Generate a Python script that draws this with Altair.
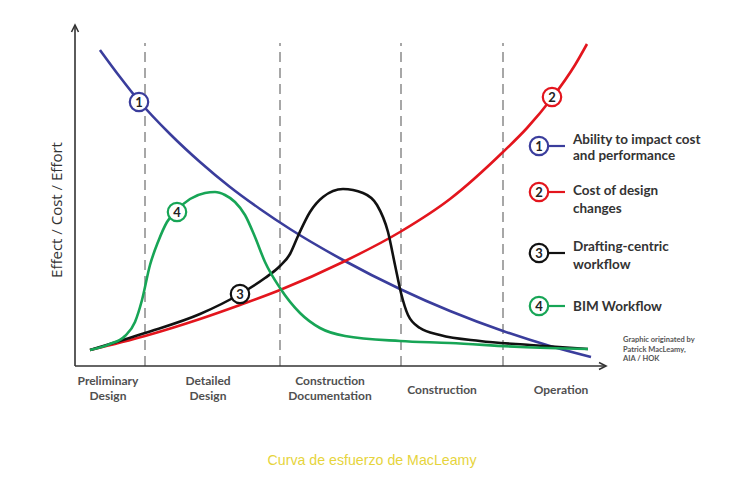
import altair as alt
import pandas as pd

# ---- data (x = project time, y = effort/cost; units) ----
blue_x = [25, 45, 64, 95, 125, 155, 185, 215, 268, 325, 375, 428, 475, 516]
blue_y = [316, 289, 265, 232, 204, 179, 157, 137, 106, 77, 55, 35, 20, 9]

red_x = [15, 70, 125, 165, 205, 268, 325, 375, 428, 452, 477, 500, 512]
red_y = [16, 30, 47, 61, 76, 104, 134, 167, 214, 238, 268, 301, 322]

black_x = [15, 70, 125, 165, 190, 205, 215, 223, 235, 248, 268, 288, 302, 313, 320, 326, 333, 345, 365, 405, 455, 513]
black_y = [16, 33, 52, 72, 88, 100, 112, 130, 154, 169, 177, 173, 161, 134, 101, 73, 51, 38, 31, 25, 21, 17]

green_x = [15, 35, 50, 60, 67, 75, 83, 92, 102, 115, 130, 140, 150, 160, 170, 180, 190, 205, 225, 245, 270, 325, 375, 445, 513]
green_y = [16, 22, 30, 44, 66, 101, 124, 144, 156, 167, 173, 174, 171, 164, 151, 129, 104, 78, 53, 38, 30, 25, 23, 19, 17]

series_names = ["1", "2", "3", "4"]
series_colors = ["#3a3d9c", "#e3151d", "#111111", "#17a556"]

# circled-number markers on the curves
marker_num = ["1", "2", "3", "4"]
marker_x = [64, 477, 165, 102]
marker_y = [264, 269, 72, 154]

# legend
legend_num = ["1", "2", "3", "4"]
legend_y = [220, 174, 113, 60]
legend_lines = [
    ["Ability to impact cost", "and performance"],
    ["Cost of design", "changes"],
    ["Drafting-centric", "workflow"],
    ["BIM Workflow"],
]
legend_line_y = [[226, 210], [175, 157], [119, 101], [59]]

# phases
phase_bounds = [70, 205, 326, 428]
phase_labels = [["Preliminary", "Design"], ["Detailed", "Design"],
                ["Construction", "Documentation"], ["Construction"], ["Operation"]]
phase_centers = [33, 133, 255, 367, 486]

credit_lines = ["Graphic originated by", "Patrick MacLeamy,", "AIA / HOK"]

# ---- build tables ----
rows = []
for name, xs, ys in [("1", blue_x, blue_y), ("2", red_x, red_y),
                     ("3", black_x, black_y), ("4", green_x, green_y)]:
    for xv, yv in zip(xs, ys):
        rows.append({"s": name, "x": xv, "y": yv})
curves = pd.DataFrame(rows)

markers = pd.DataFrame({"s": marker_num, "x": marker_x, "y": marker_y})

leg = pd.DataFrame({"s": legend_num, "x": [464] * 4, "x2": [490] * 4, "y": legend_y})
leg_text_rows = []
for lines, ys in zip(legend_lines, legend_line_y):
    for t, yv in zip(lines, ys):
        leg_text_rows.append({"t": t, "x": 498, "y": yv})
leg_text = pd.DataFrame(leg_text_rows)

phase_rows = []
for lines, cx in zip(phase_labels, phase_centers):
    if len(lines) == 2:
        phase_rows.append({"t": lines[0], "x": cx, "y": -15})
        phase_rows.append({"t": lines[1], "x": cx, "y": -30})
    else:
        phase_rows.append({"t": lines[0], "x": cx, "y": -24})
phases = pd.DataFrame(phase_rows)

bounds = pd.DataFrame({"x": phase_bounds, "y": [0] * 4, "y2": [323] * 4})

axes_df = pd.DataFrame({"x": [0, 0], "y": [0, 0], "x2": [0, 531], "y2": [341, 0]})
arrow_up = pd.DataFrame({"x": [0], "y": [341]})
arrow_right = pd.DataFrame({"x": [531], "y": [0]})

credit = pd.DataFrame({"t": credit_lines, "x": [548] * 3, "y": [26, 16, 7]})

X = alt.Scale(domain=[-75, 662], nice=False, zero=False)
Y = alt.Scale(domain=[-128, 366], nice=False, zero=False)
C = alt.Scale(domain=series_names, range=series_colors)

def xe(f="x"):
    return alt.X(f"{f}:Q", scale=X, axis=None)

def ye(f="y"):
    return alt.Y(f"{f}:Q", scale=Y, axis=None)

base_font = "Lato"

axes_layer = alt.Chart(axes_df).mark_rule(color="#333333", strokeWidth=1.6).encode(
    x=xe(), y=ye(), x2="x2:Q", y2="y2:Q")
up = alt.Chart(arrow_up).mark_point(shape="M-1,2L0,0L1,2", size=49, filled=False,
                                     color="#333333", strokeWidth=1.6, opacity=1).encode(x=xe(), y=ye())
right = alt.Chart(arrow_right).mark_point(shape="M-2,-1L0,0L-2,1", size=49, filled=False,
                                          color="#333333", strokeWidth=1.6, opacity=1).encode(x=xe(), y=ye())

dashes = alt.Chart(bounds).mark_rule(color="#8a8a8a", strokeWidth=1.5, strokeDash=[10, 6]).encode(
    x=xe(), y=ye(), y2="y2:Q")

lines = alt.Chart(curves).mark_line(strokeWidth=2.6, interpolate="monotone").encode(
    x=xe(), y=ye(), color=alt.Color("s:N", scale=C, legend=None), detail="s:N",
    order="x:Q")

mk_circ = alt.Chart(markers).mark_point(shape="circle", size=340, filled=True, fill="white",
                                        strokeWidth=2.2, opacity=1, fillOpacity=1).encode(
    x=xe(), y=ye(), stroke=alt.Stroke("s:N", scale=C, legend=None))
mk_text = alt.Chart(markers).mark_text(font=base_font, fontSize=13, fontWeight="bold",
                                       color="#222222", baseline="middle", dy=0.5).encode(
    x=xe(), y=ye(), text="s:N")

leg_line = alt.Chart(leg).mark_rule(strokeWidth=2.2).encode(
    x=xe(), x2="x2:Q", y=ye(), color=alt.Color("s:N", scale=C, legend=None))
leg_circ = alt.Chart(leg).mark_point(shape="circle", size=340, filled=True, fill="white",
                                     strokeWidth=2.2, opacity=1, fillOpacity=1).encode(
    x=xe(), y=ye(), stroke=alt.Stroke("s:N", scale=C, legend=None))
leg_num = alt.Chart(leg).mark_text(font=base_font, fontSize=13, fontWeight="bold",
                                   color="#222222", baseline="middle", dy=0.5).encode(
    x=xe(), y=ye(), text="s:N")
leg_txt = alt.Chart(leg_text).mark_text(font=base_font, fontSize=13.5, fontWeight="bold",
                                        color="#333333", align="left", baseline="middle").encode(
    x=xe(), y=ye(), text="t:N")

phase_txt = alt.Chart(phases).mark_text(font=base_font, fontSize=12, fontWeight="bold",
                                        color="#505050", align="center", baseline="middle").encode(
    x=xe(), y=ye(), text="t:N")

credit_txt = alt.Chart(credit).mark_text(font=base_font, fontSize=7.5, fontWeight="bold",
                                         color="#555555", align="left", baseline="middle").encode(
    x=xe(), y=ye(), text="t:N")

ytitle = alt.Chart(pd.DataFrame({"t": ["Effect / Cost / Effort"], "x": [-18], "y": [156]})).mark_text(
    font="Open Sans", fontSize=15, color="#333333", angle=270, align="center", baseline="middle").encode(
    x=xe(), y=ye(), text="t:N")

caption = alt.Chart(pd.DataFrame({"t": ["Curva de esfuerzo de MacLeamy"], "x": [297], "y": [-95]})).mark_text(
    font="Liberation Sans", fontSize=14.2, color="#e6d43c", align="center", baseline="middle").encode(
    x=xe(), y=ye(), text="t:N")

chart = alt.layer(
    dashes, axes_layer, up, right, lines, mk_circ, mk_text,
    leg_line, leg_circ, leg_num, leg_txt, phase_txt, credit_txt, ytitle, caption
).properties(
    width=737, height=494, padding=0, autosize=alt.AutoSizeParams(type="none"),
    background="white"
).configure_view(stroke=None)

chart.save("out.html", embed_options={"renderer": "svg", "actions": False})
